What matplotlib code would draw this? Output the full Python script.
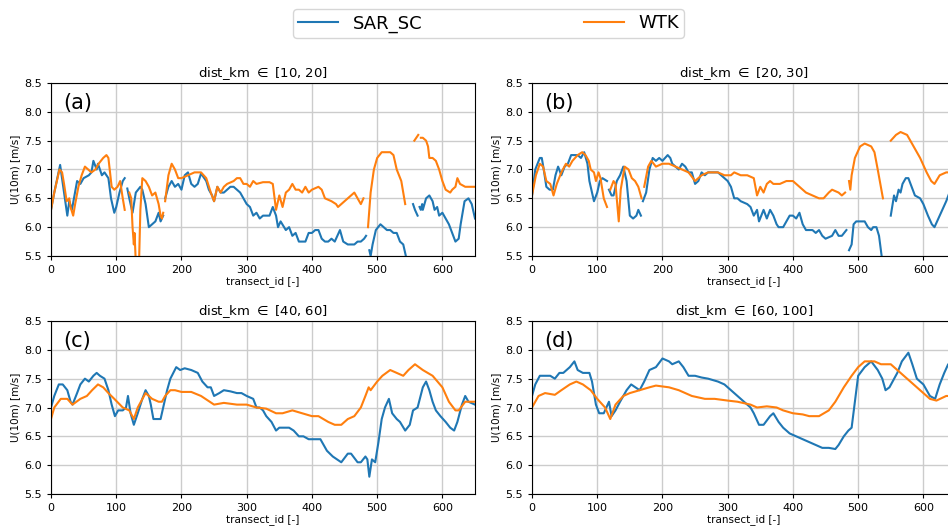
import numpy as np
import matplotlib
matplotlib.use('Agg')
import matplotlib.pyplot as plt

nan = np.nan

# values, nan marks a gap in the series
a_sar_x = [0, 5, 14, 20, 25, 28, 32, 40, 45, 50, 58, 62, 65, 70, 72, 78, 82, 88, 92, 97, 100, 105, 110, 113, 115,
           117, 120, 125, 130, 137, 140, 145, 150, 155, 160, 165, 168, 172, 174,
           175, 180, 185, 190, 195, 200, 205, 210, 215, 220, 225, 230, 238, 242, 247, 250, 255, 260, 265, 270, 275,
           280, 285, 290, 295, 300, 305, 310, 315, 320, 325, 335, 340, 345, 348, 352, 360, 365, 370, 375, 380, 385,
           390, 395, 400, 405, 410, 415, 420, 425, 430, 435, 443, 448, 455, 460, 465, 470, 475, 480, 483, 485,
           488, 490, 493, 498, 505, 510, 515, 520, 525, 530, 535, 540, 544, 550,
           555, 558, 562, 563, 565, 567, 569, 570, 575, 580, 585, 588, 592, 595, 600, 605, 610, 615, 620, 625, 628,
           634, 640, 645, 650]
a_sar_y = [6.3, 6.6, 7.08, 6.6, 6.2, 6.45, 6.3, 6.8, 6.75, 6.85, 6.9, 6.95, 7.15, 7.0, 7.1, 6.9, 6.95, 6.85, 6.5, 6.25,
           6.35, 6.6, 6.8, 6.85, nan,
           6.67, 6.5, 6.25, 6.6, 6.7, 6.65, 6.4, 6.0, 6.05, 6.1, 6.25, 6.1, 6.2, nan,
           6.5, 6.7, 6.8, 6.7, 6.75, 6.65, 6.9, 6.95, 6.75, 6.7, 6.75, 6.93, 6.8, 6.65, 6.55, 6.45, 6.7, 6.6, 6.6,
           6.65, 6.7, 6.7, 6.65, 6.6, 6.5, 6.4, 6.35, 6.2, 6.25, 6.15, 6.2, 6.2, 6.35, 6.2, 6.0, 6.1, 5.95, 6.0,
           5.85, 5.9, 5.75, 5.75, 5.75, 5.9, 5.9, 5.95, 5.95, 5.8, 5.75, 5.75, 5.8, 5.75, 5.95, 5.75, 5.7, 5.7, 5.7,
           5.75, 5.75, 5.8, 5.85, nan,
           5.6, 5.5, 5.7, 5.95, 6.05, 6.0, 5.95, 5.95, 5.9, 5.9, 5.75, 5.7, 5.5, nan,
           6.4, 6.3, 6.2, nan, 6.35, 6.3, 6.4, 6.3, 6.5, 6.55, 6.45, 6.3, 6.35, 6.2, 6.25, 6.15, 6.05, 5.9, 5.75,
           5.8, 6.05, 6.45, 6.5, 6.4, 6.15]

a_wtk_x = [0, 5, 13, 17, 20, 24, 28, 30, 34, 37, 42, 47, 52, 57, 62, 68, 73, 80, 85, 88, 90, 93, 97, 102, 106, 110,
           113, 116,
           120, 123, 125, 127, 128, 130, 135, 137, 140, 145, 150, 155, 160, 165, 168, 170, 172, 173,
           175, 180, 185, 190, 195, 200, 210, 220, 230, 238, 245, 250, 255, 260, 265, 270, 280, 285, 290, 295, 300,
           305, 310, 315, 325, 335, 340, 345, 350, 355, 360, 365, 370, 375, 380, 385, 390, 395, 400, 410, 415, 420,
           430, 437, 440, 445, 450, 460, 465, 470, 475, 479, 482,
           486, 490, 495, 500, 507, 520, 525, 530, 537, 543, 550,
           557, 563, 565, 567, 570, 575, 578, 580, 585, 590, 595, 600, 605, 612, 615, 620, 623, 627, 635, 650]
a_wtk_y = [6.3, 6.6, 7.0, 6.95, 6.75, 6.45, 6.5, 6.35, 6.2, 6.4, 6.7, 6.9, 7.05, 7.0, 6.95, 7.0, 7.1, 7.2, 7.25, 7.2,
           7.0, 6.7, 6.65, 6.7, 6.8, 6.5, 6.3, nan,
           6.6, 6.5, 6.0, 5.7, 5.9, 5.4, 5.4, 6.3, 6.85, 6.8, 6.7, 6.55, 6.6, 6.4, 6.2, 6.15, 6.25, nan,
           6.45, 6.9, 7.1, 7.0, 6.85, 6.85, 6.9, 6.95, 6.95, 6.85, 6.6, 6.45, 6.7, 6.6, 6.7, 6.75, 6.8, 6.85, 6.85,
           6.75, 6.75, 6.7, 6.8, 6.75, 6.78, 6.78, 6.75, 6.3, 6.55, 6.35, 6.6, 6.65, 6.75, 6.65, 6.65, 6.6, 6.7,
           6.6, 6.65, 6.7, 6.65, 6.5, 6.45, 6.4, 6.35, 6.4, 6.45, 6.55, 6.6, 6.5, 6.4, 6.5, nan,
           6.0, 6.6, 7.0, 7.2, 7.3, 7.3, 7.25, 7.0, 6.8, 6.4, nan,
           7.5, 7.6, nan, 7.55, 7.55, 7.5, 7.4, 7.2, 7.2, 7.15, 7.0, 6.8, 6.65, 6.6, 6.65, 6.7, 6.85, 6.75, 6.7, 6.7]

b_sar_x = [0, 5, 12, 15, 18, 22, 27, 32, 36, 40, 45, 50, 55, 60, 65, 70, 75, 80, 85, 88, 95, 100, 104, 108, 115, 116,
           118, 122, 125, 130, 135, 140, 145, 150, 155, 160, 163, 167, 168,
           170, 175, 180, 185, 190, 195, 200, 208, 212, 215, 220, 225, 230, 235, 240, 245, 250, 255, 260, 265, 270,
           280, 285, 290, 295, 300, 305, 310, 315, 320, 330, 335, 340, 345, 348, 355, 360, 365, 370, 375, 378, 385,
           390, 395, 400, 405, 410, 415, 420, 430, 435, 440, 445, 450, 460, 465, 470, 475, 482, 484,
           486, 490, 493, 497, 505, 510, 515, 520, 523, 528, 532, 536, 540,
           550, 555, 558, 562, 565, 568, 573, 577, 582, 587, 595, 600, 607, 613, 617, 625, 635, 645, 650]
b_sar_y = [6.55, 7.0, 7.2, 7.2, 7.0, 6.7, 6.65, 6.65, 6.9, 7.05, 6.9, 7.05, 7.1, 7.25, 7.25, 7.25, 7.2, 7.3, 7.1, 6.8,
           6.45, 6.6, 6.8, 6.85, 6.8, nan,
           6.65, 6.55, 6.55, 6.8, 6.9, 7.05, 6.8, 6.2, 6.15, 6.2, 6.3, 6.2, nan,
           6.45, 6.6, 7.0, 7.2, 7.15, 7.2, 7.15, 7.25, 7.2, 7.1, 7.05, 7.0, 7.1, 7.05, 6.95, 6.95, 6.75, 6.8, 6.95,
           6.9, 6.95, 6.95, 6.95, 6.9, 6.85, 6.8, 6.7, 6.5, 6.5, 6.45, 6.4, 6.35, 6.2, 6.3, 6.1, 6.3, 6.15, 6.3, 6.2,
           6.05, 6.0, 6.0, 6.1, 6.2, 6.2, 6.15, 6.25, 6.05, 5.95, 5.95, 5.9, 5.95, 5.85, 5.8, 5.85, 5.95, 5.85, 5.85,
           5.95, nan,
           5.6, 5.7, 6.05, 6.1, 6.1, 6.1, 6.0, 5.95, 6.0, 6.0, 5.85, 5.5, nan,
           6.2, 6.55, 6.45, 6.65, 6.6, 6.75, 6.85, 6.85, 6.7, 6.55, 6.5, 6.4, 6.2, 6.05, 6.0, 6.2, 6.45, 6.75, 6.85]

b_wtk_x = [0, 6, 12, 17, 22, 28, 33, 38, 45, 52, 57, 62, 70, 77, 82, 87, 90, 95, 98, 102, 105, 110, 115, 117,
           120, 125, 128, 133, 136, 142, 148, 153, 158, 163, 168, 170,
           172, 178, 183, 190, 200, 210, 220, 230, 240, 250, 260, 270, 285, 295, 305, 310, 320, 330, 340, 345, 350,
           355, 360, 365, 370, 380, 390, 400, 410, 420, 430, 440, 447, 455, 460, 470, 475, 480, 483,
           486, 488, 490, 495, 503, 510, 520, 525, 530, 538, 545,
           550, 558, 565, 575, 585, 590, 595, 605, 612, 617, 625, 635, 650]
b_wtk_y = [6.55, 6.9, 7.1, 7.05, 6.8, 6.75, 6.55, 6.75, 6.95, 7.1, 7.05, 7.15, 7.25, 7.3, 7.25, 7.15, 7.0, 6.95, 6.8,
           6.95, 6.85, 6.5, 6.35, nan,
           6.65, 6.8, 6.75, 6.1, 6.65, 7.05, 7.0, 6.85, 6.8, 6.7, 6.5, nan,
           6.7, 7.05, 7.15, 7.05, 7.1, 7.1, 7.05, 7.0, 6.95, 6.8, 6.9, 6.95, 6.95, 6.9, 6.9, 6.95, 6.9, 6.9, 6.85,
           6.55, 6.7, 6.6, 6.75, 6.8, 6.75, 6.75, 6.8, 6.8, 6.7, 6.6, 6.55, 6.5, 6.5, 6.6, 6.65, 6.6, 6.55, 6.6, nan,
           6.8, 6.65, 6.9, 7.2, 7.4, 7.45, 7.4, 7.3, 7.0, 6.5, nan,
           7.5, 7.6, 7.65, 7.6, 7.4, 7.3, 7.2, 6.95, 6.8, 6.75, 6.9, 6.95, 6.95]

c_sar_x = [0, 5, 12, 18, 25, 30, 33, 40, 45, 52, 58, 65, 70, 75, 82, 88, 93, 98, 103, 110, 115, 118, 122, 127, 133,
           140, 145, 150, 153, 157, 162, 168, 172, 178, 183, 192, 198, 205, 215, 225, 232, 240, 245, 250, 258, 265,
           275, 285, 292, 300, 310, 315, 320, 325, 330, 338, 345, 350, 357, 365, 372, 380, 387, 395, 405, 413, 418,
           423, 432, 445, 455, 460, 470, 475, 482, 485, 488, 492, 497, 502, 507, 512, 518, 523, 530, 535, 543, 550,
           555, 562, 570, 575, 580, 585, 590, 597, 605, 612, 618, 623, 630, 635, 640, 650]
c_sar_y = [7.0, 7.2, 7.4, 7.4, 7.3, 7.1, 7.05, 7.25, 7.4, 7.5, 7.45, 7.55, 7.6, 7.55, 7.5, 7.3, 7.05, 6.85, 6.95, 6.95,
           7.0, 7.2, 6.9, 6.7, 6.9, 7.15, 7.3, 7.2, 7.05, 6.8, 6.8, 6.8, 7.0, 7.3, 7.5, 7.7, 7.65, 7.68, 7.65, 7.6,
           7.45, 7.35, 7.35, 7.2, 7.25, 7.3, 7.28, 7.25, 7.25, 7.2, 7.15, 7.0, 7.0, 6.95, 6.85, 6.75, 6.6, 6.65, 6.65,
           6.65, 6.6, 6.5, 6.5, 6.45, 6.45, 6.45, 6.35, 6.25, 6.15, 6.05, 6.2, 6.2, 6.05, 6.05, 6.15, 6.1, 5.8, 6.1,
           6.05, 6.4, 6.8, 7.0, 7.15, 6.9, 6.8, 6.75, 6.6, 6.7, 6.95, 7.0, 7.35, 7.45, 7.3, 7.1, 6.95, 6.85, 6.75,
           6.65, 6.6, 6.75, 7.05, 7.2, 7.1, 7.05]

c_wtk_x = [0, 5, 15, 25, 33, 45, 55, 63, 72, 80, 88, 97, 110, 120, 127, 133, 145, 155, 165, 170, 175, 183, 190, 200,
           215, 230, 250, 265, 285, 300, 315, 330, 345, 355, 370, 385, 400, 410, 425, 435, 445, 455, 465, 475, 482,
           487, 490, 500, 508, 520, 530, 540, 548, 558, 570, 585, 600, 610, 620, 625, 635, 650]
c_wtk_y = [6.8, 7.0, 7.15, 7.15, 7.05, 7.15, 7.2, 7.3, 7.4, 7.35, 7.25, 7.15, 7.0, 6.95, 6.8, 7.0, 7.25, 7.15, 7.1,
           7.1, 7.2, 7.3, 7.3, 7.27, 7.27, 7.2, 7.05, 7.08, 7.05, 7.05, 7.0, 6.98, 6.9, 6.9, 6.95, 6.9, 6.85, 6.85,
           6.75, 6.7, 6.7, 6.8, 6.85, 7.0, 7.2, 7.35, 7.3, 7.45, 7.55, 7.65, 7.6, 7.55, 7.65, 7.75, 7.65, 7.55, 7.35,
           7.1, 6.95, 6.95, 7.1, 7.1]

d_sar_x = [0, 5, 12, 20, 28, 35, 42, 48, 58, 65, 70, 78, 88, 92, 98, 103, 110, 118, 122, 128, 135, 145, 152, 165,
           172, 180, 190, 200, 210, 215, 225, 232, 240, 250, 260, 270, 285, 295, 305, 320, 335, 340, 348, 355, 365,
           370, 378, 385, 395, 405, 415, 425, 435, 445, 455, 465, 470, 478, 485, 490, 495, 500, 510, 520, 530, 537,
           542, 548, 560, 567, 577, 583, 590, 600, 610, 618, 625, 632, 638, 650]
d_sar_y = [7.2, 7.4, 7.55, 7.55, 7.55, 7.5, 7.6, 7.6, 7.7, 7.8, 7.65, 7.6, 7.6, 7.45, 7.05, 6.9, 6.9, 7.1, 6.85, 6.95,
           7.1, 7.3, 7.4, 7.3, 7.45, 7.65, 7.7, 7.85, 7.8, 7.75, 7.8, 7.7, 7.55, 7.55, 7.52, 7.5, 7.45, 7.4, 7.3,
           7.15, 7.0, 6.9, 6.7, 6.7, 6.85, 6.9, 6.75, 6.65, 6.55, 6.5, 6.45, 6.4, 6.35, 6.3, 6.3, 6.28, 6.35, 6.5,
           6.6, 6.65, 7.1, 7.55, 7.7, 7.8, 7.65, 7.5, 7.3, 7.35, 7.6, 7.8, 7.95, 7.75, 7.5, 7.4, 7.2, 7.15, 7.4,
           7.6, 7.75, 7.8]

d_wtk_x = [0, 10, 20, 35, 45, 58, 68, 78, 90, 100, 112, 120, 128, 140, 150, 165, 180, 190, 210, 225, 245, 265, 280,
           300, 315, 335, 345, 360, 375, 385, 400, 415, 425, 440, 455, 465, 478, 490, 500, 510, 525, 535, 550, 565,
           580, 595, 610, 620, 635, 650]
d_wtk_y = [7.0, 7.2, 7.25, 7.22, 7.3, 7.4, 7.45, 7.4, 7.3, 7.15, 7.0, 6.8, 7.05, 7.2, 7.25, 7.3, 7.35, 7.38, 7.35,
           7.3, 7.2, 7.15, 7.15, 7.12, 7.1, 7.05, 7.0, 7.02, 7.0, 6.95, 6.9, 6.88, 6.85, 6.85, 6.95, 7.1, 7.35, 7.55,
           7.7, 7.8, 7.8, 7.75, 7.75, 7.6, 7.45, 7.3, 7.15, 7.12, 7.2, 7.2]

titles = ['dist_km $\\in$ [10, 20]', 'dist_km $\\in$ [20, 30]',
          'dist_km $\\in$ [40, 60]', 'dist_km $\\in$ [60, 100]']
labels = ['(a)', '(b)', '(c)', '(d)']
sar = [(a_sar_x, a_sar_y), (b_sar_x, b_sar_y), (c_sar_x, c_sar_y), (d_sar_x, d_sar_y)]
wtk = [(a_wtk_x, a_wtk_y), (b_wtk_x, b_wtk_y), (c_wtk_x, c_wtk_y), (d_wtk_x, d_wtk_y)]

#figure geometry (fractions of the 948x531 picture)
picW, picH = 9.48, 5.31
axW = 424/948.
axH = 173/531.
lefts = [51/948., 532/948.]
bottoms = [1 - 256/531., 1 - 494/531.]

fig = plt.figure(figsize=(picW, picH), dpi=100)

for k in range(4):
    row, col = divmod(k, 2)
    ax = fig.add_axes([lefts[col], bottoms[row], axW, axH])
    l1, = ax.plot(sar[k][0], sar[k][1], color='tab:blue', lw=1.5, label='SAR_SC')
    l2, = ax.plot(wtk[k][0], wtk[k][1], color='tab:orange', lw=1.5, label='WTK')
    ax.set_xlim(0, 650)
    ax.set_ylim(5.5, 8.5)
    ax.set_xticks(np.arange(0, 601, 100))
    ax.set_yticks(np.arange(5.5, 8.51, 0.5))
    ax.grid(True, color='#cccccc', lw=1)
    ax.set_axisbelow(True)
    ax.tick_params(labelsize=8, length=3)
    ax.set_title(titles[k], fontsize=9.5, pad=4)
    ax.set_ylabel('U(10m) [m/s]', fontsize=7.5, labelpad=3)
    ax.set_xlabel('transect_id [-]', fontsize=7.5, labelpad=1)
    ax.text(0.03, 0.94, labels[k], transform=ax.transAxes, fontsize=15, va='top', ha='left')

fig.legend([l1, l2], ['SAR_SC', 'WTK'], ncol=2, mode='expand', fontsize=13,
           bbox_to_anchor=(293/948., 1 - 38/531., 391/948., 33/531.),
           loc='lower left', borderaxespad=0, handlelength=2.2, borderpad=0.3)

fig.savefig('out.png', dpi=100)
